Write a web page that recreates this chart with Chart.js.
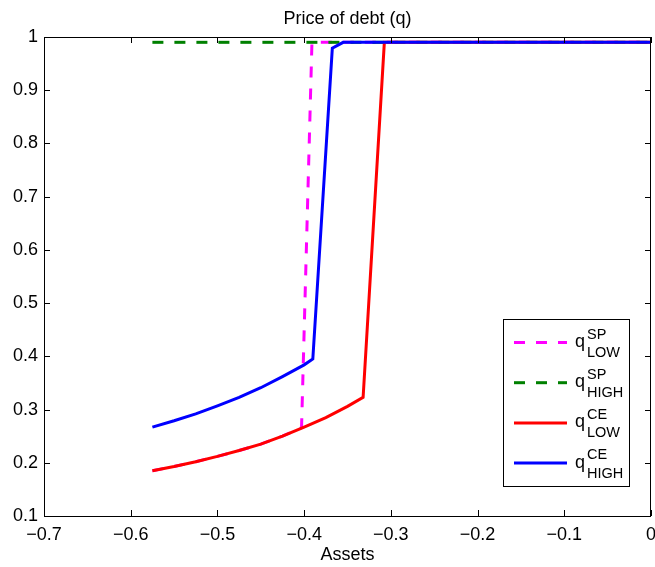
<!DOCTYPE html>
<html>
<head>
<meta charset="utf-8">
<script src="https://cdn.jsdelivr.net/npm/chart.js@4.4.0/dist/chart.umd.min.js"></script>
<style>
  html, body { margin: 0; padding: 0; background: #fff; }
  #wrap { width: 655px; height: 567px; }
</style>
</head>
<body>
<div id="wrap"><canvas id="debtChart" width="655" height="567"></canvas></div>
<script>
/* ===== DATA ===== */
const chartTitle = 'Price of debt (q)';
const xAxisTitle = 'Assets';

const xTicks = [-0.7, -0.6, -0.5, -0.4, -0.3, -0.2, -0.1, 0];
const xTickLabels = ['\u22120.7', '\u22120.6', '\u22120.5', '\u22120.4', '\u22120.3', '\u22120.2', '\u22120.1', '0'];
const yTicks = [0.1, 0.2, 0.3, 0.4, 0.5, 0.6, 0.7, 0.8, 0.9, 1];
const yTickLabels = ['0.1', '0.2', '0.3', '0.4', '0.5', '0.6', '0.7', '0.8', '0.9', '1'];

// social planner, low state
const spLowX = [-0.575, -0.55, -0.525, -0.5, -0.475, -0.45, -0.425, -0.403, -0.391, 0];
const spLowY = [0.185, 0.193, 0.202, 0.212, 0.223, 0.235, 0.250, 0.266, 0.99, 0.99];
// social planner, high state
const spHighX = [-0.575, 0];
const spHighY = [0.99, 0.99];
// competitive equilibrium, low state
const ceLowX = [-0.575, -0.55, -0.525, -0.5, -0.475, -0.45, -0.425, -0.4, -0.375, -0.35, -0.332, -0.3075, 0];
const ceLowY = [0.185, 0.193, 0.202, 0.212, 0.223, 0.235, 0.250, 0.267, 0.285, 0.306, 0.323, 0.99, 0.99];
// competitive equilibrium, high state
const ceHighX = [-0.575, -0.55, -0.525, -0.5, -0.475, -0.45, -0.425, -0.4, -0.39, -0.3675, -0.355, 0];
const ceHighY = [0.267, 0.279, 0.292, 0.307, 0.323, 0.341, 0.362, 0.384, 0.395, 0.979, 0.99, 0.99];

const legendSup = ['SP', 'SP', 'CE', 'CE'];
const legendSub = ['LOW', 'HIGH', 'LOW', 'HIGH'];

const FONT = '"Liberation Sans", Arial, Helvetica, sans-serif';

function pts(xs, ys) {
  return xs.map((x, i) => ({ x, y: ys[i] }));
}

// matlab-ish frame: box, inward ticks on all four sides, title, legend
const frame = {
  id: 'frame',
  afterDraw(chart) {
    const { ctx, chartArea: ca, scales } = chart;
    ctx.save();
    ctx.strokeStyle = '#000';
    ctx.lineWidth = 1;
    ctx.strokeRect(ca.left + 0.5, ca.top + 0.5, ca.right - ca.left - 1, ca.bottom - ca.top);

    const tl = 6;
    ctx.beginPath();
    xTicks.forEach(v => {
      const px = Math.round(scales.x.getPixelForValue(v)) + 0.5;
      ctx.moveTo(px, ca.bottom); ctx.lineTo(px, ca.bottom - tl);
      ctx.moveTo(px, ca.top); ctx.lineTo(px, ca.top + tl);
    });
    yTicks.forEach(v => {
      const py = Math.round(scales.y.getPixelForValue(v)) + 0.5;
      ctx.moveTo(ca.left, py); ctx.lineTo(ca.left + tl, py);
      ctx.moveTo(ca.right, py); ctx.lineTo(ca.right - tl, py);
    });
    ctx.stroke();

    // title
    ctx.fillStyle = '#000';
    ctx.font = '18px ' + FONT;
    ctx.textAlign = 'center';
    ctx.textBaseline = 'alphabetic';
    ctx.fillText(chartTitle, (ca.left + ca.right) / 2, 23.5);

    // legend
    const bx = ca.right - 148, by = ca.top + 282, bw = 126, bh = 167;
    ctx.fillStyle = '#fff';
    ctx.fillRect(bx, by, bw, bh);
    ctx.strokeRect(bx + 0.5, by + 0.5, bw, bh);
    chart.data.datasets.forEach((ds, i) => {
      const cy = by + 23.5 + i * 40.2;
      ctx.beginPath();
      ctx.strokeStyle = ds.borderColor;
      ctx.lineWidth = ds.borderWidth;
      ctx.setLineDash(ds.borderDash || []);
      ctx.moveTo(bx + 11, cy);
      ctx.lineTo(bx + 64, cy);
      ctx.stroke();
      ctx.setLineDash([]);
      ctx.fillStyle = '#000';
      ctx.textAlign = 'left';
      ctx.font = '18px ' + FONT;
      ctx.fillText('q', bx + 72, cy + 4.5);
      ctx.font = '14.5px ' + FONT;
      ctx.fillText(legendSup[i], bx + 84, cy - 4);
      ctx.fillText(legendSub[i], bx + 84, cy + 14.5);
    });
    ctx.restore();
  }
};

const lineBase = { showLine: true, pointRadius: 0, pointHoverRadius: 0, borderWidth: 3, fill: false, tension: 0, borderCapStyle: 'butt' };

new Chart(document.getElementById('debtChart'), {
  type: 'scatter',
  data: {
    datasets: [
      { ...lineBase, label: 'SP LOW', data: pts(spLowX, spLowY), borderColor: '#ff00ff', borderDash: [11, 11], order: 3 },
      { ...lineBase, label: 'SP HIGH', data: pts(spHighX, spHighY), borderColor: '#008000', borderDash: [11, 11], order: 2 },
      { ...lineBase, label: 'CE LOW', data: pts(ceLowX, ceLowY), borderColor: '#ff0000', order: 1 },
      { ...lineBase, label: 'CE HIGH', data: pts(ceHighX, ceHighY), borderColor: '#0000ff', order: 0 }
    ]
  },
  options: {
    responsive: false,
    animation: false,
    layout: { padding: { top: 37, right: 4, left: 0, bottom: 0 } },
    plugins: { legend: { display: false }, tooltip: { enabled: false }, title: { display: false } },
    scales: {
      x: {
        type: 'linear', min: -0.7, max: 0,
        afterBuildTicks: s => { s.ticks = xTicks.map(v => ({ value: v })); },
        afterFit: s => { s.height = 51; s.paddingLeft = 0; s.paddingRight = 0; },
        grid: { display: false, drawTicks: false },
        border: { display: false },
        ticks: { color: '#000', font: { family: FONT, size: 18 }, padding: 8, maxRotation: 0, autoSkip: false,
          callback: (v, i) => xTickLabels[i] },
        title: { display: true, text: xAxisTitle, color: '#000', font: { family: FONT, size: 18 }, padding: { top: 0, bottom: 1.5 } }
      },
      y: {
        type: 'linear', min: 0.1, max: 1,
        afterBuildTicks: s => { s.ticks = yTicks.map(v => ({ value: v })); },
        afterFit: s => { s.width = 44; s.paddingTop = 0; s.paddingBottom = 0; },
        grid: { display: false, drawTicks: false },
        border: { display: false },
        ticks: { color: '#000', font: { family: FONT, size: 18 }, padding: 6, autoSkip: false,
          callback: (v, i) => yTickLabels[i] }
      }
    }
  },
  plugins: [frame]
});
</script>
</body>
</html>
